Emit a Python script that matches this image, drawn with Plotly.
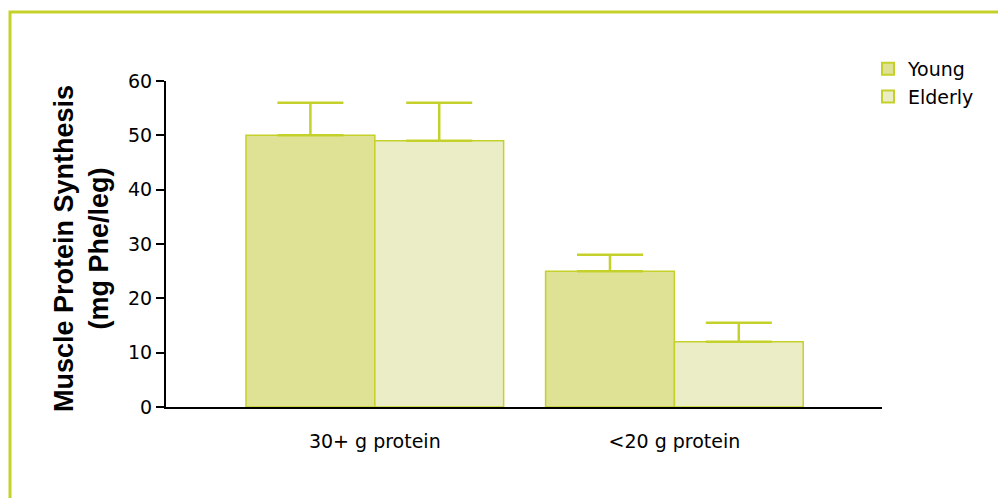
import plotly.graph_objects as go

categories = ["30+ g protein", "<20 g protein"]
young = [50, 25]
elderly = [49, 12]
young_err = [6, 3]
elderly_err = [7, 3.5]
y_ticks = [0, 10, 20, 30, 40, 50, 60]

LINE = "#c5d12b"
FONT = "DejaVu Sans, Arial, sans-serif"
TFONT = "Liberation Sans, Arial, Helvetica, sans-serif"

# target plot area on screen (page has 8px body offset)
PX0, PX1, PY0, PY1 = 166, 882, 81, 407
OFF = 8
W, H = 1006, 498


def px(x):
    return (x - PX0) / (PX1 - PX0)


def py(y):
    return (PY1 - y) / (PY1 - PY0)


fig = go.Figure()
fig.add_trace(go.Bar(
    name="Young", x=categories, y=young,
    marker=dict(color="#dfe295", line=dict(color=LINE, width=1.5)),
    error_y=dict(type="data", array=young_err, arrayminus=[0]*len(young_err),
                 symmetric=False, color=LINE, thickness=2.5, width=33),
))
fig.add_trace(go.Bar(
    name="Elderly", x=categories, y=elderly,
    marker=dict(color="#ebedc7", line=dict(color=LINE, width=1.5)),
    error_y=dict(type="data", array=elderly_err, arrayminus=[0]*len(elderly_err),
                 symmetric=False, color=LINE, thickness=2.5, width=33),
))

fig.update_layout(
    width=W, height=H,
    margin=dict(l=PX0 - OFF, r=W + OFF - PX1, t=PY0 - OFF, b=H + OFF - PY1),
    paper_bgcolor="white", plot_bgcolor="white",
    barmode="group", bargap=0.14, bargroupgap=0,
    font=dict(family=FONT, size=19, color="black"),
    showlegend=True,
    legend=dict(x=px(868), y=py(50), xanchor="left", yanchor="top",
                font=dict(size=19), bgcolor="rgba(0,0,0,0)",
                tracegroupgap=0, itemsizing="constant"),
    xaxis=dict(type="category", range=[-0.697, 1.693], showline=True,
               linecolor="black", linewidth=2, ticks="", showgrid=False,
               tickfont=dict(size=19), ticklabelstandoff=16),
    yaxis=dict(range=[0, 60], tickvals=y_ticks, showline=True, linecolor="black",
               linewidth=2, ticks="outside", ticklen=8, tickwidth=2,
               tickcolor="black", showgrid=False, zeroline=False,
               tickfont=dict(size=19)),
    shapes=[dict(type="rect", xref="paper", yref="paper",
                 x0=px(10), x1=px(1030), y0=py(530), y1=py(12),
                 line=dict(color=LINE, width=3), fillcolor="rgba(0,0,0,0)",
                 layer="below")],
    annotations=[dict(text="<b>Muscle Protein Synthesis<br>(mg Phe/leg)</b>",
                      xref="paper", yref="paper", x=px(81), y=py(249),
                      textangle=-90, showarrow=False,
                      font=dict(size=27, family=TFONT),
                      xanchor="center", yanchor="middle")],
)

fig.write_html("out.html")
